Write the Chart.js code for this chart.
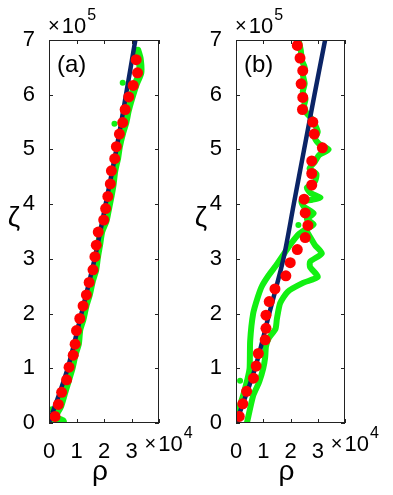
<!DOCTYPE html>
<html>
<head>
<meta charset="utf-8">
<script src="https://cdn.jsdelivr.net/npm/chart.js@4.4.1/dist/chart.umd.min.js"></script>
<style>
  body { margin: 0; background: #fff; }
  .wrap { position: relative; width: 393px; height: 495px; }
  .wrap canvas { position: absolute; left: 0; top: 0; }
</style>
</head>
<body>
<div class="wrap">
  <canvas id="panelA" width="393" height="495"></canvas>
  <canvas id="panelB" width="393" height="495"></canvas>
</div>
<script>
// 数据：rho 以 10^4 为单位，zeta 以 10^5 为单位
const xTicks = [0, 1, 2, 3, 4];
const yTicks = [0, 1, 2, 3, 4, 5, 6, 7];

// (a) 理论曲线
const blueA_rho  = [0, 0.68, 1.18, 1.66, 2.06, 2.45, 2.80, 3.14];
const blueA_zeta = [0, 1, 2, 3, 4, 5, 6, 7];
// (a) 平均值（红点）
const redA_rho  = [0.22, 0.34, 0.46, 0.64, 0.73, 0.88, 0.95, 1.00, 1.12, 1.24, 1.36, 1.46, 1.60, 1.67, 1.72,
                   1.79, 1.99, 2.06, 2.14, 2.23, 2.27, 2.39, 2.45, 2.56, 2.68, 2.77, 2.90, 3.06, 3.22, 3.17];
const redA_zeta = [0.12, 0.34, 0.56, 0.79, 1.02, 1.24, 1.44, 1.69, 1.91, 2.14, 2.34, 2.57, 2.80, 3.04, 3.25,
                   3.49, 3.71, 3.92, 4.14, 4.37, 4.61, 4.83, 5.05, 5.28, 5.49, 5.73, 5.96, 6.17, 6.40, 6.64];
// (a) 模拟轨迹（绿）
const greenA_rho  = [0, 0.50, 0.20, 0.40, 0.55, 0.70, 0.82, 0.93, 1.05, 1.10, 1.22, 1.33, 1.45, 1.56, 1.68, 1.75,
                     1.82, 1.90, 2.06, 2.14, 2.24, 2.31, 2.37, 2.48, 2.54, 2.66, 2.78, 2.86, 3.00, 3.16, 3.32, 3.30, 3.22];
const greenA_zeta = [0, 0.03, 0.10, 0.30, 0.55, 0.80, 1.00, 1.25, 1.45, 1.70, 1.90, 2.15, 2.35, 2.60, 2.80, 3.05,
                     3.25, 3.50, 3.70, 3.90, 4.15, 4.35, 4.60, 4.85, 5.05, 5.30, 5.50, 5.70, 5.95, 6.20, 6.40, 6.65, 6.80];
const dotsA_rho  = [2.68, 2.38, 0.10];
const dotsA_zeta = [6.22, 5.47, 0.25];

// (b) 理论曲线
const blueB_rho  = [0, 0.70, 1.22, 1.74, 2.12, 2.50, 2.88, 3.27];
const blueB_zeta = [0, 1, 2, 3, 4, 5, 6, 7];
// (b) 平均值（红点）
const redB_rho  = [0.12, 0.25, 0.39, 0.64, 0.74, 0.82, 1.07, 1.10, 1.10, 1.22, 1.43, 1.83, 1.99, 2.25, 2.54,
                   2.64, 2.54, 2.50, 2.78, 2.78, 2.78, 3.17, 2.87, 2.82, 2.44, 2.45, 2.39, 2.45, 2.35, 2.25];
const redB_zeta = [0.12, 0.35, 0.58, 0.82, 1.04, 1.27, 1.52, 1.73, 1.97, 2.22, 2.45, 2.69, 2.93, 3.17, 3.39,
                   3.61, 3.84, 4.09, 4.35, 4.56, 4.79, 5.03, 5.28, 5.50, 5.73, 5.95, 6.20, 6.44, 6.67, 6.90];
// (b) 模拟轨迹（绿）：左支 + 上部
const greenB1_rho  = [0, 0.10, 0.26, 0.42, 0.50, 0.52, 0.63, 0.80, 0.95, 1.20, 1.50, 1.80, 2.05, 2.30,
                      2.60, 2.85, 2.60, 2.85, 2.50, 2.40, 2.80, 3.10, 2.75, 2.60, 2.90, 2.95, 2.70, 2.90, 3.05,
                      3.40, 3.05, 2.90, 3.00, 2.90, 2.80, 2.58, 2.50, 2.55, 2.45, 2.52, 2.46, 2.52, 2.42, 2.38, 2.30];
const greenB1_zeta = [0, 0.25, 0.50, 0.80, 1.00, 1.50, 2.00, 2.30, 2.50, 2.70, 2.90, 3.12, 3.30, 3.45,
                      3.55, 3.63, 3.73, 3.83, 3.95, 4.05, 4.08, 4.12, 4.20, 4.30, 4.42, 4.55, 4.65, 4.78, 4.90,
                      5.00, 5.10, 5.20, 5.32, 5.45, 5.55, 5.67, 5.80, 5.92, 6.05, 6.20, 6.35, 6.50, 6.62, 6.80, 7.00];
// (b) 模拟轨迹（绿）：右支
const greenB2_rho  = [0.40, 0.63, 0.85, 1.00, 1.07, 1.10, 1.20, 1.45, 1.50, 1.62, 1.90, 2.46, 3.00, 2.72, 2.72,
                      3.15, 2.90, 2.72, 2.60];
const greenB2_zeta = [0, 0.50, 0.75, 1.00, 1.20, 1.40, 1.55, 1.72, 1.90, 2.19, 2.40, 2.56, 2.67, 2.85, 2.95,
                      3.10, 3.25, 3.40, 3.50];
const dotsB_rho  = [0.15, 2.29];
const dotsB_zeta = [0.77, 3.62];

const GREEN = '#12f012';
const NAVY = '#0b2466';
const RED = '#ff0000';
const FONT = "'Liberation Sans', Arial, sans-serif";

function pts(xs, ys) {
    return xs.map((x, i) => ({ x: x, y: ys[i] }));
}

// 外框、内向刻度和文字
const decorPlugin = {
    id: 'decor',
    afterDraw(chart, args, opts) {
        const ctx = chart.ctx;
        const a = chart.chartArea;
        const xs = chart.scales.x, ys = chart.scales.y;
        ctx.save();
        ctx.strokeStyle = '#222';
        ctx.lineWidth = 1;
        ctx.strokeRect(a.left + 0.5, a.top + 0.5, a.right - a.left - 1, a.bottom - a.top - 1);
        ctx.beginPath();
        xTicks.forEach(v => {
            const px = Math.round(xs.getPixelForValue(v)) + 0.5;
            ctx.moveTo(px, a.bottom); ctx.lineTo(px, a.bottom - 4);
            ctx.moveTo(px, a.top); ctx.lineTo(px, a.top + 4);
        });
        yTicks.forEach(v => {
            const py = Math.round(ys.getPixelForValue(v)) + 0.5;
            ctx.moveTo(a.left, py); ctx.lineTo(a.left + 4, py);
            ctx.moveTo(a.right, py); ctx.lineTo(a.right - 4, py);
        });
        ctx.stroke();

        ctx.fillStyle = '#000';
        ctx.textBaseline = 'alphabetic';
        ctx.textAlign = 'left';
        // 面板标签
        ctx.font = '24px ' + FONT;
        ctx.fillText(opts.label, a.left + 8, a.top + 32);

        // y 轴倍数 ×10^5
        let x0 = a.left - 1;
        ctx.font = '20px ' + FONT;
        ctx.fillText('×', x0, 32);
        x0 += ctx.measureText('×').width + 2;
        ctx.font = '22px ' + FONT;
        ctx.fillText('10', x0, 33);
        x0 += ctx.measureText('10').width + 1;
        ctx.font = '16px ' + FONT;
        ctx.fillText('5', x0, 20);

        // x 轴倍数 ×10^4
        x0 = xs.getPixelForValue(3) + 13;
        ctx.font = '20px ' + FONT;
        ctx.fillText('×', x0, 450);
        x0 += ctx.measureText('×').width + 2;
        ctx.font = '22px ' + FONT;
        ctx.fillText('10', x0, 451);
        x0 += ctx.measureText('10').width + 1;
        ctx.font = '16px ' + FONT;
        ctx.fillText('4', x0, 438);

        // 轴标题
        ctx.font = '28px ' + FONT;
        ctx.textAlign = 'center';
        ctx.fillText('ζ', opts.zetaX, 226);
        ctx.fillText('ρ', (a.left + a.right) / 2 - 4, 480);
        ctx.restore();
    }
};

function makePanel(id, cfg) {
    const ctx = document.getElementById(id);
    // 数据集 0 画在最上层：红点、蓝线、绿线、绿点
    const datasets = [{
        data: pts(cfg.redRho, cfg.redZeta),
        showLine: false,
        pointRadius: 5.5,
        pointBackgroundColor: RED,
        pointBorderWidth: 0
    }, {
        data: pts(cfg.blueRho, cfg.blueZeta),
        showLine: true,
        borderColor: NAVY,
        borderWidth: 4.5,
        pointRadius: 0,
        tension: 0.3
    }].concat(cfg.greens.map(g => ({
        data: pts(g[0], g[1]),
        showLine: true,
        borderColor: GREEN,
        borderWidth: cfg.greenWidth,
        borderJoinStyle: 'round',
        borderCapStyle: 'round',
        pointRadius: 0,
        tension: 0.2
    }))).concat([{
        data: pts(cfg.dotsRho, cfg.dotsZeta),
        pointRadius: 3,
        pointBackgroundColor: GREEN,
        pointBorderWidth: 0,
        showLine: false
    }]);

    return new Chart(ctx, {
        type: 'scatter',
        data: { datasets: datasets },
        options: {
            responsive: false,
            animation: false,
            layout: {
                padding: { left: 0, top: 40, right: cfg.padRight, bottom: 0 }
            },
            plugins: {
                legend: { display: false },
                tooltip: { enabled: false },
                decor: { label: cfg.label, zetaX: cfg.zetaX }
            },
            scales: {
                x: {
                    type: 'linear',
                    min: 0,
                    max: 4,
                    grid: { display: false },
                    border: { display: false },
                    afterFit: s => { s.height = 72; },
                    ticks: {
                        stepSize: 1,
                        autoSkip: false,
                        maxRotation: 0,
                        padding: 8,
                        color: '#000',
                        font: { family: FONT, size: 22 },
                        callback: v => (v === 4 ? '' : String(v))
                    }
                },
                y: {
                    type: 'linear',
                    min: 0,
                    max: 7,
                    grid: { display: false },
                    border: { display: false },
                    afterFit: s => { s.width = cfg.yWidth; },
                    ticks: {
                        stepSize: 1,
                        autoSkip: false,
                        padding: 6,
                        color: '#000',
                        font: { family: FONT, size: 22 },
                        callback: v => String(v)
                    }
                }
            }
        },
        plugins: [decorPlugin]
    });
}

makePanel('panelA', {
    label: '(a)', zetaX: 14, yWidth: 49, padRight: 393 - 159, greenWidth: 8,
    blueRho: blueA_rho, blueZeta: blueA_zeta,
    redRho: redA_rho, redZeta: redA_zeta,
    greens: [[greenA_rho, greenA_zeta]],
    dotsRho: dotsA_rho, dotsZeta: dotsA_zeta
});

makePanel('panelB', {
    label: '(b)', zetaX: 201, yWidth: 236, padRight: 393 - 345, greenWidth: 6,
    blueRho: blueB_rho, blueZeta: blueB_zeta,
    redRho: redB_rho, redZeta: redB_zeta,
    greens: [[greenB1_rho, greenB1_zeta], [greenB2_rho, greenB2_zeta]],
    dotsRho: dotsB_rho, dotsZeta: dotsB_zeta
});
</script>
</body>
</html>
